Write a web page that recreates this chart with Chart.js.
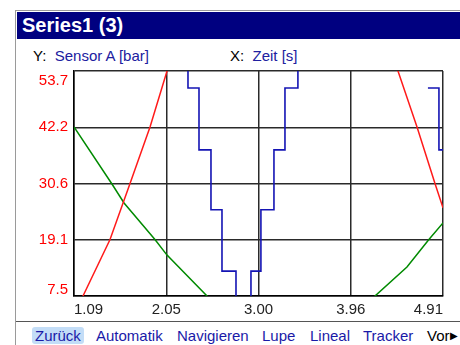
<!DOCTYPE html>
<html>
<head>
<meta charset="utf-8">
<script src="https://cdn.jsdelivr.net/npm/chart.js@4/dist/chart.umd.min.js"></script>
<style>
  html, body { margin: 0; padding: 0; background: #fff; }
  body { width: 460px; height: 345px; position: relative; overflow: hidden;
         font-family: "Liberation Sans", Arial, sans-serif; }
  #frameTop { position: absolute; left: 15px; top: 10px; width: 445px; height: 1px; background: #9a9a9a; }
  #frameLeft { position: absolute; left: 15px; top: 10px; width: 1px; height: 335px; background: #9a9a9a; }
  #titleBar { position: absolute; left: 17px; top: 12px; width: 443px; height: 27px; background: #000080;
              color: #fff; font-weight: bold; font-size: 20px; line-height: 27px; padding-left: 5px; box-sizing: border-box; }
  .axisInfo { position: absolute; top: 47px; font-size: 15px; line-height: 17px; color: #2020a0; white-space: nowrap; }
  .axisInfo b { font-weight: normal; color: #000; }
  #wrap { position: absolute; left: 17px; top: 64px; width: 443px; height: 256px; }
  #toolLine { position: absolute; left: 16px; top: 321px; width: 444px; height: 1px; background: #555; }
  .tool { position: absolute; top: 327px; font-size: 15px; line-height: 17px; color: #1a1aa8; white-space: nowrap; }
  #zuruck { background: #c3ddf7; border-radius: 3px; padding: 0 3px; }
  #vor { color: #000; }
  #vor span { font-size: 10px; vertical-align: 2px; }
</style>
</head>
<body>
<div id="frameTop"></div>
<div id="frameLeft"></div>
<div id="titleBar">Series1 (3)</div>
<div class="axisInfo" style="left:33px"><b>Y:</b>&nbsp;&nbsp;Sensor A [bar]</div>
<div class="axisInfo" style="left:230px"><b>X:</b>&nbsp;&nbsp;Zeit [s]</div>
<div id="wrap"><canvas id="c" width="443" height="256"></canvas></div>
<div id="toolLine"></div>
<div class="tool" id="zuruck" style="left:32px">Zurück</div>
<div class="tool" style="left:96px">Automatik</div>
<div class="tool" style="left:177px">Navigieren</div>
<div class="tool" style="left:262px">Lupe</div>
<div class="tool" style="left:310px">Lineal</div>
<div class="tool" style="left:363px">Tracker</div>
<div class="tool" id="vor" style="left:427px">Vor<span>&#9654;</span></div>
<script>
// Axis ticks (values and printed labels)
const xTickValues = [1.09, 2.045, 3.00, 3.955, 4.91];
const xTickLabels = ['1.09', '2.05', '3.00', '3.96', '4.91'];
const yTickValues = [7.5, 19.05, 30.6, 42.15, 53.7];
const yTickLabels = ['7.5', '19.1', '30.6', '42.2', '53.7'];

// Series: time [s] and pressure [bar]
const redX   = [1.10, 1.183, 1.463, 1.670, 1.877, 2.053, 2.12, null, 4.38, 4.444, 4.641, 4.827, 4.91];
const redY   = [4.0,  7.5,   19.1,  30.6,  42.2,  53.7,  57.0, null, 57.0, 53.7,  42.2,  30.6,  25.6];

const greenX = [1.09, 1.483, 1.608, 1.928, 2.053, 2.467, 2.55, null, 4.12, 4.206, 4.537, 4.764, 4.91];
const greenY = [42.2, 30.5,  26.6,  19.1,  15.9,  7.5,   5.5,  null, 5.0,  7.5,   13.45, 19.1,  22.5];

// Stepped signal: value takes effect at each listed time
const blueX  = [2.00, 2.270, 2.384, 2.508, 2.622, 2.767, 2.922, 3.025, 3.160, 3.274, 3.408, 3.60, null, 4.754, 4.868, 4.95];
const blueY  = [60.0, 50.2,  37.5,  25.2,  12.6,  2.0,   12.6,  25.2,  37.5,  50.2,  60.0,  60.0, null, 50.2,  37.5,  37.5];

const pts = (xs, ys) => xs.map((x, i) => ({ x: x === null ? NaN : x, y: ys[i] === null ? null : ys[i] }));

// Place the first/last y labels inside the plot, like the x labels.
const innerYLabels = {
  id: 'innerYLabels',
  beforeDraw(chart) {
    const s = chart.scales.y;
    const items = s.getLabelItems(chart.chartArea);
    if (!items.length) return;
    items[0].options.textBaseline = 'bottom';
    items[0].options.translation = [items[0].options.translation[0], s.bottom + 1];
    const last = items[items.length - 1];
    last.options.textBaseline = 'top';
    last.options.translation = [last.options.translation[0], s.top + 2];
  }
};

new Chart(document.getElementById('c'), {
  type: 'line',
  data: {
    datasets: [
      { data: pts(redX, redY), borderColor: '#ff1a1a', borderWidth: 1.5, pointRadius: 0, spanGaps: false },
      { data: pts(greenX, greenY), borderColor: '#008a00', borderWidth: 1.5, pointRadius: 0, spanGaps: false },
      { data: pts(blueX, blueY), borderColor: '#1414b4', borderWidth: 1.6, pointRadius: 0, stepped: 'before', spanGaps: false }
    ]
  },
  options: {
    responsive: false,
    animation: false,
    events: [],
    layout: { padding: { top: 7, right: 17, left: 0, bottom: 0 } },
    plugins: { legend: { display: false }, tooltip: { enabled: false } },
    scales: {
      x: {
        type: 'linear', min: 1.09, max: 4.91,
        afterBuildTicks: s => { s.ticks = xTickValues.map(v => ({ value: v })); },
        afterFit: s => { s.height = 24; s.paddingLeft = 0; s.paddingRight = 0; },
        ticks: {
          align: 'inner', padding: 5, color: '#222', maxRotation: 0, autoSkip: false,
          font: { family: '"Liberation Sans", Arial, sans-serif', size: 15 },
          callback: (v, i) => xTickLabels[i]
        },
        grid: { color: '#2a2a2a', lineWidth: 1.5, drawTicks: false },
        border: { display: true, color: '#000', width: 1.5 }
      },
      y: {
        type: 'linear', min: 7.5, max: 53.7,
        afterBuildTicks: s => { s.ticks = yTickValues.map(v => ({ value: v })); },
        afterFit: s => { s.width = 57; s.paddingTop = 0; s.paddingBottom = 0; },
        ticks: {
          padding: 6, color: '#ff0000', autoSkip: false,
          font: { family: '"Liberation Sans", Arial, sans-serif', size: 15 },
          callback: (v, i) => yTickLabels[i]
        },
        grid: { color: '#2a2a2a', lineWidth: 1.5, drawTicks: false },
        border: { display: true, color: '#000', width: 1.5 }
      }
    }
  },
  plugins: [innerYLabels]
});
</script>
</body>
</html>
